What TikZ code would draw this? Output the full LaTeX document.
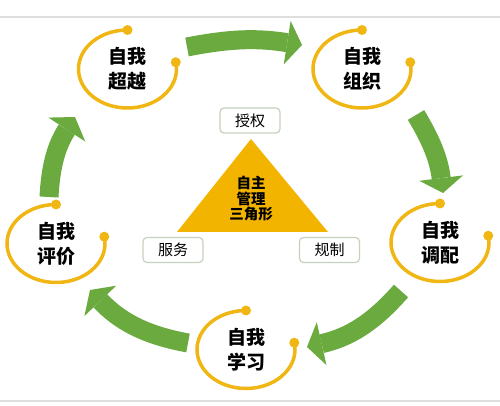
\documentclass[tikz,border=0pt]{standalone}
\usepackage{fontspec}
\newfontfamily\cjk{Noto Sans CJK SC}
\usetikzlibrary{arrows.meta}

\definecolor{ringgold}{RGB}{240,182,20}
\definecolor{trigold}{RGB}{243,180,0}
\definecolor{cyclegreen}{RGB}{106,170,62}
\definecolor{tagline}{RGB}{196,210,190}
\definecolor{sheetline}{RGB}{222,222,222}

\tikzset{
  selftext/.style={align=center, font=\cjk\bfseries\fontsize{19}{25}\selectfont},
  ring/.style={draw=ringgold, line width=3.5pt},
  ringdot/.style={fill=ringgold},
  cyclearrow/.style={draw=cyclegreen, line width=19pt,
    -{Triangle[length=15pt,width=44pt,line width=0pt 0,fill=cyclegreen]}},
  tag/.style={draw=tagline, line width=1.2pt, rounded corners=4pt, fill=white,
    minimum width=60pt, minimum height=25pt, inner sep=0pt, font=\cjk\fontsize{15}{18}\selectfont},
  coretext/.style={align=center, font=\cjk\bfseries\fontsize{14.5}{15.5}\selectfont}
}

\newcommand\selfring[1]{%
  \draw[ring] (#1.center) ++(90:49pt and 39pt) arc[start angle=90, end angle=370, x radius=49pt, y radius=39pt];
  \fill[ringdot] (#1.center) ++(90:49pt and 39pt) circle (5pt);
  \fill[ringdot] (#1.center) ++(10:49pt and 39pt) circle (5pt);
}

\begin{document}
\begin{tikzpicture}[x=1pt,y=1pt]
        \useasboundingbox (0,0) rectangle (500,406);

        \draw[sheetline, line width=1.5pt] (0,389) -- (500,389);
        \draw[sheetline, line width=1.5pt] (0,5) -- (500,5);

        \node[selftext] (chaoyue) at (127.5,337) {自我\\超越};
        \node[selftext] (zuzhi) at (362,337) {自我\\组织};
        \node[selftext] (tiaopei) at (440,163.5) {自我\\调配};
        \node[selftext] (xuexi) at (246,56.5) {自我\\学习};
        \node[selftext] (pingjia) at (56,162.5) {自我\\评价};

        \selfring{chaoyue}
        \selfring{zuzhi}
        \selfring{tiaopei}
        \selfring{xuexi}
        \selfring{pingjia}

        \coordinate (a1s) at (187,359);
        \coordinate (a1e) at (302,361);
        \coordinate (a2s) at (416,291);
        \coordinate (a2e) at (443,213);
        \coordinate (a3s) at (401,115);
        \coordinate (a3e) at (307,59);
        \coordinate (a4s) at (188,63);
        \coordinate (a4e) at (90,116);
        \coordinate (a5s) at (49,209);
        \coordinate (a5e) at (75,289);

        \draw [cyclearrow] (a1s) to[bend left=10] (a1e);
        \draw [cyclearrow] (a2s) to[bend left=12] (a2e);
        \draw [cyclearrow] (a3s) to[bend left=18] (a3e);
        \draw [cyclearrow] (a4s) to[bend left=18] (a4e);
        \draw [cyclearrow] (a5s) to[bend left=15] (a5e);

        \fill[trigold] (251,267) -- (177,174) -- (328,174) -- cycle;
        \node[coretext] (core) at (251,207) {自主\\管理\\三角形};

        \node[tag] (shouquan) at (250,285.5) {授权};
        \node[tag] (fuwu) at (173,156) {服务};
        \node[tag] (guizhi) at (329.5,156) {规制};
\end{tikzpicture}
\end{document}
